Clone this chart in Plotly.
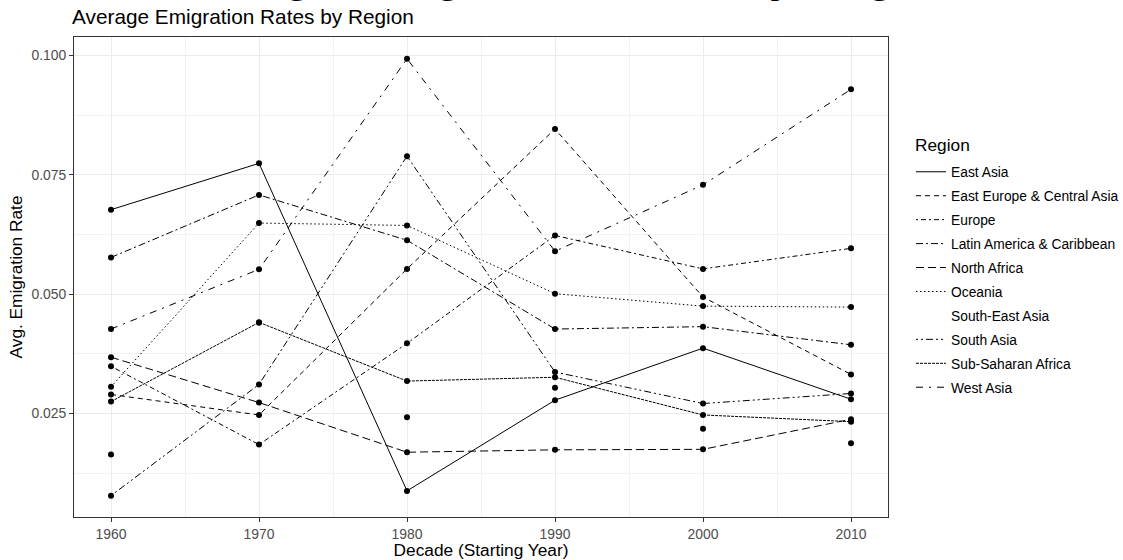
import plotly.graph_objects as go

decades = [1960, 1970, 1980, 1990, 2000, 2010]
regions = ["East Asia", "East Europe & Central Asia", "Europe", "Latin America & Caribbean",
           "North Africa", "Oceania", "South-East Asia", "South Asia", "Sub-Saharan Africa", "West Asia"]
east_asia = [0.0677, 0.0774, 0.0088, 0.0278, 0.0387, 0.0280]
east_europe_central_asia = [0.0290, 0.0247, 0.0553, 0.0846, 0.0494, 0.0332]
europe = [0.0349, 0.0185, 0.0397, 0.0623, 0.0553, 0.0596]
latin_america_caribbean = [0.0577, 0.0708, 0.0613, 0.0427, 0.0432, 0.0394]
north_africa = [0.0368, 0.0273, 0.0169, 0.0174, 0.0175, 0.0238]
oceania = [0.0306, 0.0649, 0.0644, 0.0501, 0.0475, 0.0473]
south_east_asia = [0.0164, 0.0440, 0.0242, 0.0304, 0.0218, 0.0188]
south_asia = [0.0078, 0.0311, 0.0789, 0.0337, 0.0271, 0.0292]
sub_saharan_africa = [0.0275, 0.0441, 0.0318, 0.0326, 0.0247, 0.0233]
west_asia = [0.0427, 0.0552, 0.0993, 0.0590, 0.0729, 0.0929]

series = [east_asia, east_europe_central_asia, europe, latin_america_caribbean, north_africa,
          oceania, south_east_asia, south_asia, sub_saharan_africa, west_asia]
dashes = ["solid", "5px,4px", "2px,3px,5px,3px", "7px,3px,2px,3px", "8px,4px",
          "1.5px,2.5px", "solid", "2px,3px,2px,3px,7px,3px", "3px,1px", "7px,6px,2px,6px"]
line_colors = ["#000000"] * 6 + ["rgba(0,0,0,0)"] + ["#000000"] * 3

FONT = "Liberation Sans, Arial, sans-serif"

fig = go.Figure()
for name, vals, dash, col in zip(regions, series, dashes, line_colors):
    fig.add_trace(go.Scatter(x=decades, y=vals, mode="lines", name=name, legendgroup=name,
                             line=dict(color=col, width=1, dash=dash), hoverinfo="skip"))
for name, vals in zip(regions, series):
    fig.add_trace(go.Scatter(x=decades, y=vals, mode="markers", name=name, legendgroup=name,
                             showlegend=False, marker=dict(color="black", size=6)))

# large bold heading, mostly cut off at the top edge in the reference
fig.add_annotation(text="<b>Average Emigration Rates by Region</b>", xref="paper", yref="paper",
                   x=0.597, y=1.0, yshift=34, xanchor="center", yanchor="bottom", showarrow=False,
                   font=dict(family=FONT, size=46, color="black"))
# legend title
fig.add_annotation(text="Region", xref="paper", yref="paper",
                   x=(913 - 74) / 814, y=(516.7 - 145) / 480, xanchor="left", yanchor="middle",
                   showarrow=False, font=dict(family=FONT, size=17.3, color="black"))

fig.update_layout(
    width=1123, height=560,
    paper_bgcolor="white", plot_bgcolor="white",
    margin=dict(l=74, r=235, t=37, b=43, autoexpand=False),
    font=dict(family=FONT, color="#000000"),
    title=dict(text="Average Emigration Rates by Region", x=72 / 1123, xref="container", xanchor="left",
               y=1 - 17 / 560, yref="container", yanchor="middle", automargin=False,
               font=dict(family=FONT, size=20.8, color="black")),
    legend=dict(x=(911 - 74) / 814, xanchor="left", y=(516.7 - 156) / 480, yanchor="top",
                font=dict(size=13.8, family=FONT, color="black"),
                tracegroupgap=3, itemwidth=30, bgcolor="rgba(0,0,0,0)"),
    showlegend=True,
)
fig.update_xaxes(range=[1957.5, 2012.5], tickvals=decades, ticktext=[str(d) for d in decades],
                 automargin=False,
                 showgrid=True, gridcolor="#EBEBEB", gridwidth=1,
                 minor=dict(dtick=5, tick0=1955, showgrid=True, gridcolor="#F2F2F2", gridwidth=0.6),
                 showline=True, mirror=True, linecolor="#333333", linewidth=1,
                 ticks="outside", ticklen=4, tickcolor="#333333",
                 tickfont=dict(size=13.9, color="#4D4D4D", family=FONT),
                 title=dict(text="Decade (Starting Year)", font=dict(size=17.3, family=FONT), standoff=2),
                 zeroline=False)
fig.update_yaxes(range=[0.00333, 0.10387], tickvals=[0.025, 0.05, 0.075, 0.1],
                 ticktext=["0.025", "0.050", "0.075", "0.100"],
                 automargin=False,
                 showgrid=True, gridcolor="#EBEBEB", gridwidth=1,
                 minor=dict(dtick=0.025, tick0=0.0125, showgrid=True, gridcolor="#F2F2F2", gridwidth=0.6),
                 showline=True, mirror=True, linecolor="#333333", linewidth=1,
                 ticks="outside", ticklen=4, tickcolor="#333333",
                 tickfont=dict(size=13.9, color="#4D4D4D", family=FONT),
                 title=dict(text="Avg. Emigration Rate", font=dict(size=17.3, family=FONT), standoff=4),
                 zeroline=False)

fig.write_html("out.html", config={"displayModeBar": False},
               post_script="document.body.style.margin='0';")
